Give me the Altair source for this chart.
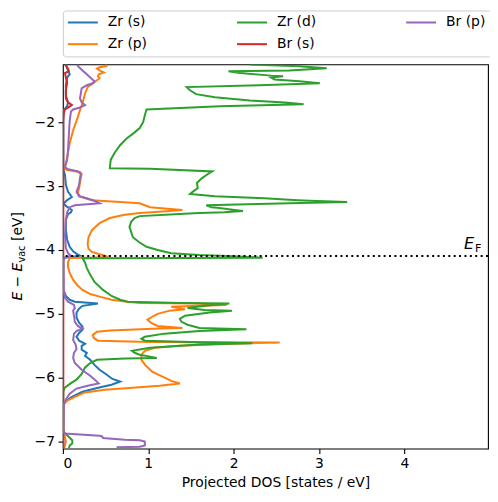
import altair as alt
import pandas as pd

# ---- data (energy in eV, projected DOS in states/eV) ----
zr_s_E = [-1.094, -1.19, -1.25, -1.30, -1.42, -1.58, -1.69, -1.75, -1.81, -1.97, -2.67, -2.75, -2.83,
          -2.98, -3.09, -3.17, -3.22, -3.27, -3.31, -3.375, -3.41, -3.44, -3.53, -3.69, -3.84, -3.95,
          -4.02, -4.06, -4.09, -4.11, -4.125, -4.625, -4.72, -4.78, -4.81, -4.84, -4.875, -4.92, -4.98,
          -5.06, -5.14, -5.20, -5.25, -5.30, -5.36, -5.42, -5.47, -5.50, -5.56, -5.61, -5.66, -5.72,
          -5.80, -5.875, -5.95, -6.02, -6.06, -6.11, -6.16, -6.22, -6.30, -6.375, -6.42, -7.11]
zr_s_dos = [0.035, 0.06, 0.08, 0.05, 0.035, 0.035, 0.06, 0.05, 0.01, 0.005, 0.005, 0.01, 0.025,
            0.035, 0.06, 0.105, 0.05, 0.01, 0.035, 0.105, 0.095, 0.06, 0.035, 0.035, 0.05, 0.08,
            0.12, 0.16, 0.20, 0.08, 0.005, 0.005, 0.035, 0.08, 0.14, 0.41, 0.23, 0.19, 0.16,
            0.16, 0.19, 0.23, 0.23, 0.19, 0.16, 0.19, 0.26, 0.22, 0.22, 0.28, 0.26, 0.32,
            0.37, 0.43, 0.51, 0.58, 0.67, 0.57, 0.40, 0.23, 0.105, 0.025, 0.005, 0.005]

zr_p_E = [-1.094, -1.12, -1.14, -1.16, -1.195, -1.22, -1.25, -1.28, -1.31, -1.375, -1.45, -1.55,
          -1.70, -1.81, -1.92, -2.125, -2.33, -2.55, -2.72, -2.75, -2.78, -2.81, -2.875, -2.95,
          -3.03, -3.11, -3.16, -3.19, -3.22, -3.23, -3.25, -3.27, -3.30, -3.33, -3.35, -3.375,
          -3.40, -3.42, -3.45, -3.50, -3.58, -3.69, -3.80, -3.91, -3.98, -4.03, -4.06, -4.09,
          -4.11, -4.12, -4.125, -4.19, -4.27, -4.36, -4.47, -4.56, -4.625, -4.69, -4.73, -4.78,
          -4.81, -4.83, -4.84, -4.86, -4.875, -4.89, -4.91, -4.93, -4.95, -5.00, -5.05, -5.09,
          -5.14, -5.19, -5.22, -5.23, -5.26, -5.28, -5.33, -5.375, -5.42, -5.44, -5.45, -5.47,
          -5.50, -5.53, -5.58, -5.64, -5.72, -5.81, -5.91, -5.98, -6.05, -6.09, -6.125, -6.16,
          -6.19, -6.23, -6.30, -6.36, -6.42, -6.81, -6.91, -7.00, -7.08, -7.11]
zr_p_dos = [0.50, 0.51, 0.43, 0.40, 0.44, 0.48, 0.42, 0.41, 0.43, 0.37, 0.29, 0.26,
            0.23, 0.20, 0.175, 0.12, 0.08, 0.05, 0.02, 0.05, 0.20, 0.22, 0.21, 0.20,
            0.19, 0.175, 0.20, 0.26, 0.34, 0.43, 0.67, 0.90, 0.96, 1.02, 1.19, 1.40,
            1.13, 0.90, 0.725, 0.55, 0.43, 0.34, 0.30, 0.29, 0.30, 0.34, 0.41, 0.49,
            0.53, 0.32, 0.08, 0.06, 0.06, 0.08, 0.12, 0.175, 0.23, 0.32, 0.43, 0.57,
            0.75, 0.90, 1.60, 1.92, 1.60, 1.27, 1.35, 1.43, 1.25, 1.11, 1.04, 0.99,
            1.03, 1.11, 1.40, 1.13, 0.55, 0.40, 0.35, 0.36, 0.41, 1.02, 2.54, 1.95,
            1.37, 1.08, 0.96, 0.92, 0.92, 0.97, 1.05, 1.16, 1.27, 1.37, 1.13, 0.78,
            0.49, 0.26, 0.14, 0.05, 0.01, 0.005, 0.02, 0.035, 0.02, 0.01]

zr_d_E = [-1.094, -1.125, -1.156, -1.19, -1.20, -1.23, -1.27, -1.28, -1.30, -1.33, -1.36, -1.39,
          -1.42, -1.45, -1.50, -1.56, -1.61, -1.66, -1.69, -1.72, -1.75, -1.80, -1.89, -2.00,
          -2.09, -2.17, -2.25, -2.36, -2.47, -2.59, -2.72, -2.73, -2.77, -2.81, -2.875, -2.95,
          -3.03, -3.09, -3.125, -3.16, -3.19, -3.22, -3.23, -3.25, -3.27, -3.30, -3.33, -3.34,
          -3.375, -3.39, -3.41, -3.42, -3.44, -3.47, -3.50, -3.56, -3.64, -3.72, -3.80, -3.875,
          -3.95, -4.00, -4.05, -4.08, -4.10, -4.12, -4.125, -4.13, -4.20, -4.28, -4.39, -4.50,
          -4.625, -4.72, -4.78, -4.81, -4.83, -4.84, -4.875, -4.91, -4.94, -4.95, -4.98, -5.03,
          -5.08, -5.125, -5.17, -5.22, -5.24, -5.27, -5.31, -5.36, -5.39, -5.42, -5.445, -5.46,
          -5.48, -5.53, -5.58, -5.61, -5.64, -5.67, -5.69, -5.70, -5.72, -5.77, -5.84, -5.94,
          -6.03, -6.09, -6.16, -6.22, -6.84, -6.89, -6.94, -6.98, -7.03, -7.06, -7.11]
zr_d_dos = [2.19, 2.77, 3.09, 2.65, 1.94, 2.07, 2.44, 2.58, 2.44, 2.48, 2.77, 3.01,
            2.30, 1.45, 1.49, 1.56, 1.78, 2.19, 2.60, 2.82, 1.84, 0.98, 0.96, 0.94,
            0.90, 0.83, 0.75, 0.67, 0.61, 0.56, 0.55, 1.02, 1.75, 1.70, 1.63, 1.57,
            1.58, 1.52, 1.49, 1.78, 2.36, 2.75, 2.89, 3.33, 2.65, 1.68, 1.74, 1.81,
            2.01, 2.11, 1.89, 1.60, 1.31, 0.90, 0.84, 0.80, 0.78, 0.80, 0.82, 0.89,
            0.98, 1.11, 1.27, 1.60, 2.01, 2.34, 1.37, 0.23, 0.26, 0.28, 0.32, 0.37,
            0.47, 0.57, 0.67, 0.76, 1.37, 1.95, 1.66, 1.46, 1.66, 1.98, 1.72, 1.43,
            1.37, 1.39, 1.46, 1.60, 2.15, 1.60, 1.19, 0.96, 0.92, 0.96, 1.60, 2.22,
            1.60, 1.02, 0.81, 0.84, 0.90, 1.02, 1.10, 0.73, 0.40, 0.32, 0.26, 0.22,
            0.16, 0.09, 0.02, 0.005, 0.005, 0.04, 0.08, 0.11, 0.11, 0.08, 0.07]

br_s_E = [-1.094, -1.16, -1.20, -1.23, -1.30, -1.375, -1.50, -1.625, -1.69, -1.73, -1.77, -1.80,
          -1.86, -1.97, -7.11]
br_s_dos = [0.025, 0.06, 0.07, 0.025, 0.035, 0.05, 0.035, 0.035, 0.06, 0.105, 0.06, 0.025,
            0.01, 0.005, 0.005]

br_p_E = [-1.094, -1.14, -1.19, -1.25, -1.31, -1.36, -1.39, -1.42, -1.47, -1.55, -1.625, -1.69,
          -1.73, -1.77, -1.80, -1.83, -1.97, -2.20, -2.44, -2.59, -2.70, -2.73, -2.77, -2.81,
          -2.875, -2.98, -3.09, -3.16, -3.19, -3.23, -3.27, -3.28, -3.30, -3.33, -3.41, -3.53,
          -3.77, -3.97, -4.05, -4.09, -4.12, -4.16, -4.625, -4.75, -4.81, -4.86, -4.91, -4.95,
          -5.03, -5.125, -5.19, -5.23, -5.27, -5.31, -5.41, -5.48, -5.55, -5.61, -5.69, -5.77,
          -5.875, -5.97, -6.05, -6.09, -6.125, -6.17, -6.25, -6.34, -6.42, -6.84, -6.875, -6.89,
          -6.91, -6.92, -6.945, -6.97, -6.98, -7.00, -7.06, -7.08, -7.09, -7.11]
br_p_dos = [0.16, 0.19, 0.23, 0.28, 0.33, 0.37, 0.35, 0.28, 0.22, 0.21, 0.20, 0.22,
            0.26, 0.20, 0.12, 0.095, 0.08, 0.07, 0.06, 0.05, 0.025, 0.05, 0.175, 0.21,
            0.20, 0.19, 0.16, 0.19, 0.28, 0.37, 0.43, 0.32, 0.14, 0.08, 0.05, 0.035,
            0.025, 0.035, 0.06, 0.095, 0.025, 0.005, 0.01, 0.025, 0.06, 0.13, 0.14, 0.12,
            0.13, 0.14, 0.175, 0.23, 0.16, 0.13, 0.12, 0.15, 0.16, 0.13, 0.12, 0.14,
            0.22, 0.32, 0.39, 0.42, 0.29, 0.16, 0.08, 0.035, 0.01, 0.005, 0.025, 0.20,
            0.43, 0.46, 0.47, 0.725, 0.90, 0.96, 0.96, 0.90, 0.64, 0.64]

series_names = ["Zr (s)", "Zr (p)", "Zr (d)", "Br (s)", "Br (p)"]
series_colors = ["#1f77b4", "#ff7f0e", "#2ca02c", "#d62728", "#9467bd"]
series_E = [zr_s_E, zr_p_E, zr_d_E, br_s_E, br_p_E]
series_dos = [zr_s_dos, zr_p_dos, zr_d_dos, br_s_dos, br_p_dos]

fermi_level = -4.094
fermi_label_x = 4.7
fermi_label_y = -3.99

x_ticks = [0, 1, 2, 3, 4]
y_ticks = [-7, -6, -5, -4, -3, -2]
x_domain = [0, 4.98]
y_domain = [-7.11, -1.094]

rows = []
for name, Es, ds in zip(series_names, series_E, series_dos):
    for i, (e, d) in enumerate(zip(Es, ds)):
        rows.append({"series": name, "E": e, "dos": d, "idx": i})
df = pd.DataFrame(rows)
df_ef = pd.DataFrame({"ef": [fermi_level], "lx": [fermi_label_x], "ly": [fermi_label_y]})

FONT = "DejaVu Sans"
FS = 13.9

xscale = alt.Scale(domain=x_domain, nice=False, zero=False)
yscale = alt.Scale(domain=y_domain, nice=False, zero=False)

lines = alt.Chart(df).mark_line(strokeWidth=2, clip=True).encode(
    x=alt.X("dos:Q", scale=xscale,
            axis=alt.Axis(values=x_ticks, format="d", title="Projected DOS [states / eV]",
                          grid=False, tickSize=4.9, tickWidth=1.1, labelPadding=3,
                          labelFont=FONT, labelFontSize=FS, labelColor="black",
                          titleFont=FONT, titleFontSize=FS, titleFontWeight="normal",
                          titleColor="black", titlePadding=5, domain=False, tickColor="black")),
    y=alt.Y("E:Q", scale=yscale,
            axis=alt.Axis(values=y_ticks, format="d", title=None, grid=False, tickSize=4.9,
                          tickWidth=1.1, labelPadding=3.5,
                          labelExpr="replace(datum.label, '-', '\u2212')",
                          labelFont=FONT, labelFontSize=FS, labelColor="black",
                          domain=False, tickColor="black")),
    color=alt.Color("series:N", title=None,
                    scale=alt.Scale(domain=series_names, range=series_colors),
                    legend=alt.Legend(orient="none", legendX=0, legendY=-54, columns=3,
                                      symbolType="M-1.39,0H4.61", symbolSize=100,
                                      symbolStrokeWidth=2, labelOffset=26.1,
                                      columnPadding=85.5, rowPadding=6.8, padding=5,
                                      strokeColor="#cccccc", fillColor="white", cornerRadius=3,
                                      labelFont=FONT, labelFontSize=FS, labelColor="black")),
    order=alt.Order("idx:Q"),
    detail="series:N",
)

fermi = alt.Chart(df_ef).mark_rule(color="black", strokeWidth=2, strokeDash=[2, 3.4]).encode(
    y=alt.Y("ef:Q", scale=yscale)
)

ef_E = alt.Chart(df_ef).mark_text(text="E", font=FONT, fontStyle="italic", fontSize=16,
                                  align="left", baseline="alphabetic", color="black").encode(
    x=alt.X("lx:Q", scale=xscale), y=alt.Y("ly:Q", scale=yscale))
ef_F = alt.Chart(df_ef).mark_text(text="F", font=FONT, fontSize=11.2, dx=11, dy=2.5,
                                  align="left", baseline="alphabetic", color="black").encode(
    x=alt.X("lx:Q", scale=xscale), y=alt.Y("ly:Q", scale=yscale))

one = alt.Data(values=[{"a": 1}])
yt1 = alt.Chart(one).mark_text(text="E \u2212 E", font=FONT, fontStyle="italic", fontSize=FS,
                               angle=270, align="left", baseline="alphabetic", color="black").encode(
    x=alt.value(-40.5), y=alt.value(236.7))
yt2 = alt.Chart(one).mark_text(text="vac", font=FONT, fontSize=9.7,
                               angle=270, align="left", baseline="alphabetic", color="black").encode(
    x=alt.value(-37.5), y=alt.value(198.6))
yt3 = alt.Chart(one).mark_text(text="[eV]", font=FONT, fontSize=FS,
                               angle=270, align="left", baseline="alphabetic", color="black").encode(
    x=alt.value(-40.5), y=alt.value(177.0))

chart = alt.layer(lines, fermi, ef_E, ef_F, yt1, yt2, yt3).properties(
    width=426, height=385,
    autosize=alt.AutoSizeParams(type="none"),
    padding={"left": 55, "top": 56, "right": 2, "bottom": 40},
).configure_view(stroke="black", strokeWidth=1.1)

chart.save("out.html", embed_options={"renderer": "svg", "actions": False})
